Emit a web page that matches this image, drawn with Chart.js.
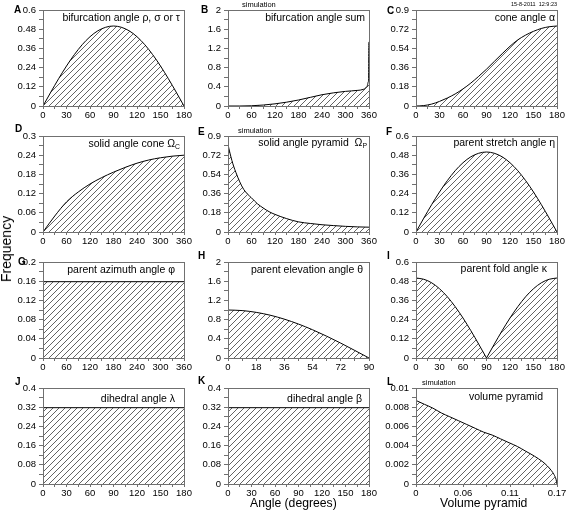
<!DOCTYPE html>
<html><head><meta charset="utf-8">
<script src="https://cdn.jsdelivr.net/npm/chart.js@4.4.1/dist/chart.umd.min.js"></script>
<style>
html,body{margin:0;padding:0;background:#fff}
#wrap{position:relative;width:569px;height:519px;overflow:hidden;font-family:"Liberation Sans",Arial,sans-serif;color:#000}
canvas{position:absolute}
.t{position:absolute;white-space:nowrap;line-height:1}
.ttl{font-size:10.5px}
.let{font-size:10px;font-weight:bold}
.sim{font-size:7.5px}
.ax{font-size:12.2px}
sub{font-size:65%;vertical-align:-2px;line-height:0}
</style></head><body><div id="wrap"></div>
<script>
// ---------- data ----------
const angA = [0,10,20,30,40,50,60,70,80,90,100,110,120,130,140,150,160,170,180];
const freqA = [0,0.087,0.171,0.25,0.321,0.383,0.433,0.47,0.492,0.5,0.492,0.47,0.433,0.383,0.321,0.25,0.171,0.087,0];

const angB = [0,30,60,90,120,150,180,210,240,270,300,330,345,352,356,358,359,359.6,360];
const freqB = [0,0,0.005,0.02,0.045,0.08,0.125,0.18,0.235,0.275,0.305,0.325,0.345,0.38,0.43,0.5,0.56,1.33,1.33];

const angC = [0,10,20,30,40,50,60,70,80,90,100,110,120,130,140,150,160,170,180];
const freqC = [0,0.004,0.018,0.043,0.075,0.113,0.16,0.215,0.278,0.345,0.418,0.49,0.56,0.62,0.665,0.7,0.727,0.743,0.75];

const angD = [0,30,60,90,120,150,180,210,240,270,300,330,360];
const freqD = [0,0.05,0.094,0.125,0.15,0.17,0.187,0.202,0.215,0.225,0.232,0.237,0.24];

const angE = [0,5,10,15,20,30,40,50,60,75,90,105,120,150,180,210,240,270,300,330,360];
const freqE = [0.82,0.74,0.67,0.61,0.56,0.47,0.40,0.355,0.32,0.265,0.225,0.19,0.165,0.125,0.095,0.08,0.068,0.06,0.053,0.048,0.045];

const angF = [0,10,20,30,40,50,60,70,80,90,100,110,120,130,140,150,160,170,180];
const freqF = [0,0.087,0.171,0.25,0.321,0.383,0.433,0.47,0.492,0.5,0.492,0.47,0.433,0.383,0.321,0.25,0.171,0.087,0];

const angG = [0,360];
const freqG = [0.159,0.159];

const angH = [0,9,18,27,36,45,54,63,72,81,90];
const freqH = [1,0.988,0.951,0.891,0.809,0.707,0.588,0.454,0.309,0.156,0];

const angI1 = [0,10,20,30,40,50,60,70,80,90];
const freqI1 = [0.5,0.492,0.47,0.433,0.383,0.321,0.25,0.171,0.087,0];
const angI2 = [90,100,110,120,130,140,150,160,170,180];
const freqI2 = [0,0.087,0.171,0.25,0.321,0.383,0.433,0.47,0.492,0.5];

const angJ = [0,180];
const freqJ = [0.318,0.318];

const angK = [0,180];
const freqK = [0.318,0.318];

const volL = [0,0.01,0.02,0.03,0.04,0.05,0.06,0.07,0.08,0.09,0.10,0.11,0.12,0.13,0.14,0.15,0.155,0.16,0.163,0.1655,0.16667];
const freqL = [0.0087,0.0083,0.0079,0.0074,0.007,0.0066,0.0062,0.0058,0.0054,0.0051,0.0047,0.0043,0.0039,0.0034,0.0029,0.0023,0.0019,0.0014,0.001,0.0005,0];

// tick definitions (max, number of minor intervals) per axis
const xTicksDeg180 = {max:180, n:12};
const xTicksDeg360 = {max:360, n:12};
const xTicksDeg90  = {max:90,  n:10};
const xTicksVol    = {max:0.16667, n:6};

// ---------- layout ----------
const wrap = document.getElementById('wrap');
const FAM = '"Liberation Sans", Arial, sans-serif';
const PW = 141, PH = 96;
const colL = [43, 228, 416];
const rowT = [10, 136, 262, 388];

const panels = [
  {c:0,r:0, x:xTicksDeg180, y:{max:0.6,n:10},  s:[[angA,freqA]]},
  {c:1,r:0, x:xTicksDeg360, y:{max:2,n:10},    s:[[angB,freqB]]},
  {c:2,r:0, x:xTicksDeg180, y:{max:0.9,n:10},  s:[[angC,freqC]]},
  {c:0,r:1, x:xTicksDeg360, y:{max:0.3,n:10},  s:[[angD,freqD]]},
  {c:1,r:1, x:xTicksDeg360, y:{max:0.9,n:10},  s:[[angE,freqE]]},
  {c:2,r:1, x:xTicksDeg180, y:{max:0.6,n:10},  s:[[angF,freqF]]},
  {c:0,r:2, x:xTicksDeg360, y:{max:0.2,n:10},  s:[[angG,freqG]]},
  {c:1,r:2, x:xTicksDeg90,  y:{max:2,n:10},    s:[[angH,freqH]]},
  {c:2,r:2, x:xTicksDeg180, y:{max:0.6,n:10},  s:[[angI1,freqI1],[angI2,freqI2]]},
  {c:0,r:3, x:xTicksDeg180, y:{max:0.4,n:10},  s:[[angJ,freqJ]]},
  {c:1,r:3, x:xTicksDeg180, y:{max:0.4,n:10},  s:[[angK,freqK]]},
  {c:2,r:3, x:xTicksVol,    y:{max:0.01,n:10}, s:[[volL,freqL]]}
];

// hatch tile
const tile = document.createElement('canvas');
tile.width = 6; tile.height = 6;
(function(){
  const g = tile.getContext('2d');
  g.strokeStyle = '#3c3c3c'; g.lineWidth = 0.8;
  g.beginPath();
  g.moveTo(0,6); g.lineTo(6,0);
  g.moveTo(-1,1); g.lineTo(1,-1);
  g.moveTo(5,7); g.lineTo(7,5);
  g.stroke();
})();

const fmt = (v, d) => String(parseFloat(v.toFixed(d)));

const framePlugin = {
  id:'frame',
  afterDatasetsDraw(chart){
    const a = chart.chartArea, c = chart.ctx;
    c.save();
    c.strokeStyle = '#707070'; c.lineWidth = 1;
    c.strokeRect(Math.round(a.left)+0.5, Math.round(a.top)+0.5, Math.round(a.right)-Math.round(a.left), Math.round(a.bottom)-Math.round(a.top));
    c.restore();
  }
};

function mkTicks(max, n){
  const out = [];
  for (let i=0;i<=n;i++) out.push({value: max*i/n});
  return out;
}

panels.forEach(p => {
  const L = 40, T = 8, R = 14, B = 20;
  const W = L + PW + R, H = T + PH + B;
  const cv = document.createElement('canvas');
  cv.width = W; cv.height = H;
  cv.style.width = W+'px'; cv.style.height = H+'px';
  cv.style.left = (colL[p.c]-L)+'px';
  cv.style.top = (rowT[p.r]-T)+'px';
  wrap.appendChild(cv);
  const pat = cv.getContext('2d').createPattern(tile,'repeat');
  const xd = p.x.max < 1 ? 2 : 0;
  const datasets = p.s.map(([xs,ys]) => ({
    data: xs.map((x,i)=>({x, y: ys[i]})),
    fill:'origin',
    backgroundColor: pat,
    borderColor:'#000', borderWidth:1,
    pointRadius:0,
    cubicInterpolationMode:'monotone'
  }));
  new Chart(cv, {
    type:'line',
    data:{datasets},
    options:{
      responsive:false, animation:false, devicePixelRatio:1,
      layout:{padding:{top:T,right:R,left:0,bottom:0}},
      plugins:{legend:{display:false}, tooltip:{enabled:false}},
      scales:{
        x:{
          type:'linear', min:0, max:p.x.max,
          afterBuildTicks: s => { s.ticks = mkTicks(p.x.max, p.x.n); },
          afterFit: s => { s.height = B; s.paddingLeft = 0; s.paddingRight = 0; },
          ticks:{callback:(v,i)=> i%2 ? '' : fmt(v, xd), maxRotation:0, autoSkip:false,
                 font:{size:9.5, family:FAM}, color:'#000', padding:1},
          grid:{drawOnChartArea:false, tickLength:3, color:'#707070'},
          border:{color:'#707070'}
        },
        y:{
          type:'linear', min:0, max:p.y.max,
          afterBuildTicks: s => { s.ticks = mkTicks(p.y.max, p.y.n); },
          afterFit: s => { s.width = L; s.paddingTop = 0; s.paddingBottom = 0; },
          ticks:{callback:(v,i)=> i%2 ? '' : fmt(v, 4), autoSkip:false,
                 font:{size:9.5, family:FAM}, color:'#000', padding:3},
          grid:{drawOnChartArea:false, tickLength:4, color:'#707070'},
          border:{color:'#707070'}
        }
      }
    },
    plugins:[framePlugin]
  });
});

// ---------- texts ----------
function addText(html, cls, css){
  const d = document.createElement('div');
  d.className = 't ' + cls;
  d.innerHTML = html;
  Object.assign(d.style, css);
  wrap.appendChild(d);
  return d;
}
const titles = [
  ['bifurcation angle ρ, σ or τ', 180, 17],
  ['bifurcation angle sum', 365, 17],
  ['cone angle α', 555, 17],
  ['solid angle cone Ω<sub>C</sub>', 180, 143],
  ['solid angle pyramid&nbsp; Ω<sub>P</sub>', 367, 142],
  ['parent stretch angle η', 555, 142],
  ['parent azimuth angle φ', 175, 269],
  ['parent elevation angle θ', 363, 269],
  ['parent fold angle κ', 547, 268],
  ['dihedral angle λ', 175, 398],
  ['dihedral angle β', 362, 398],
  ['volume pyramid', 543, 396]
];
titles.forEach(([h,rx,cy]) => addText(h,'ttl',{right:(569-rx)+'px', top:(cy-5.5)+'px'}));

const letters = [
  ['A',14,9.5],['B',201,9.5],['C',387,10.5],
  ['D',15,129],['E',198,132],['F',386,132],
  ['G',18,262],['H',198,256],['I',387,256],
  ['J',15,382],['K',198,381],['L',387,382]
];
letters.forEach(([h,x,cy]) => addText(h,'let',{left:x+'px', top:(cy-5)+'px'}));

[['simulation',242,4.5],['simulation',238,130.5],['simulation',422,382.5]]
  .forEach(([h,x,cy]) => addText(h,'sim',{left:x+'px', top:(cy-4)+'px'}));

addText('15-8-2011&nbsp; 12:9:23','',{left:'511px', top:'1.5px', fontSize:'5.5px'});

addText('Angle (degrees)','ax',{left:'250px', top:'497px'});
addText('Volume pyramid','ax',{left:'440px', top:'497px'});
const fq = addText('Frequency','ax',{left:'6px', top:'249px', fontSize:'14px', transformOrigin:'0 0', transform:'rotate(-90deg) translate(-50%,-50%)'});
</script>
</body></html>
